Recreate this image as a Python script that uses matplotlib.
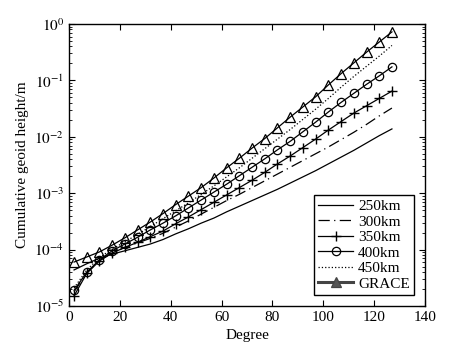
import numpy as np
import matplotlib
matplotlib.use("Agg")
import matplotlib.pyplot as plt
from matplotlib.ticker import FixedLocator, FuncFormatter, LogLocator, NullFormatter

plt.rcParams['font.family'] = ['Liberation Serif', 'DejaVu Serif']
plt.rcParams['mathtext.fontset'] = 'stix'
plt.rcParams['font.size'] = 11

# degree of the plotted points
degree = [2, 7, 12, 17, 22, 27, 32, 37, 42, 47, 52, 57, 62, 67, 72, 77, 82, 87,
          92, 97, 102, 107, 112, 117, 122, 127]

# log10 of cumulative geoid height (m)
log_250 = [-4.36, -4.25, -4.15, -4.08, -4.02, -3.96, -3.90, -3.82, -3.72, -3.63,
           -3.53, -3.44, -3.33, -3.23, -3.13, -3.03, -2.93, -2.82, -2.71, -2.60,
           -2.48, -2.36, -2.24, -2.11, -1.98, -1.86]
log_300 = [-4.75, -4.41, -4.19, -4.06, -3.96, -3.88, -3.80, -3.71, -3.60, -3.49,
           -3.37, -3.25, -3.13, -3.02, -2.90, -2.78, -2.66, -2.54, -2.42, -2.30,
           -2.18, -2.05, -1.92, -1.78, -1.63, -1.49]
log_350 = [-4.82, -4.42, -4.20, -4.06, -3.96, -3.87, -3.77, -3.67, -3.54, -3.42,
           -3.29, -3.16, -3.03, -2.90, -2.77, -2.63, -2.48, -2.34, -2.19, -2.04,
           -1.88, -1.73, -1.58, -1.45, -1.32, -1.19]
log_400 = [-4.72, -4.40, -4.18, -4.02, -3.90, -3.78, -3.65, -3.53, -3.40, -3.26,
           -3.12, -2.98, -2.84, -2.69, -2.54, -2.39, -2.23, -2.08, -1.91, -1.74,
           -1.56, -1.39, -1.23, -1.07, -0.92, -0.76]
log_450 = [-4.68, -4.36, -4.14, -3.99, -3.86, -3.73, -3.59, -3.45, -3.31, -3.17,
           -3.02, -2.87, -2.71, -2.55, -2.38, -2.21, -2.04, -1.87, -1.69, -1.51,
           -1.32, -1.12, -0.93, -0.75, -0.57, -0.38]
log_grace = [-4.22, -4.13, -4.04, -3.92, -3.79, -3.65, -3.51, -3.36, -3.20, -3.05,
             -2.90, -2.73, -2.55, -2.38, -2.20, -2.03, -1.84, -1.65, -1.47, -1.29,
             -1.08, -0.88, -0.69, -0.50, -0.32, -0.14]

labels = ['250km', '300km', '350km', '400km', '450km', 'GRACE']
x_ticks = [0, 20, 40, 60, 80, 100, 120, 140]

x = np.array(degree)
fig = plt.figure(figsize=(4.66, 3.53), dpi=100)
ax = fig.add_axes([0.148, 0.133, 0.764, 0.799])

k = dict(color='k', linewidth=0.9)
ax.semilogy(x, 10.0 ** np.array(log_250), '-', label=labels[0], **k)
ax.semilogy(x, 10.0 ** np.array(log_300), label=labels[1], dashes=(9, 3.5, 1, 3.5), **k)
ax.semilogy(x, 10.0 ** np.array(log_350), '-', marker='+', markersize=7,
            markeredgewidth=1, label=labels[2], **k)
ax.semilogy(x, 10.0 ** np.array(log_400), '-', marker='o', markersize=6,
            markerfacecolor='none', markeredgewidth=0.9, label=labels[3], **k)
ax.semilogy(x, 10.0 ** np.array(log_450), ':', label=labels[4], **k)
ax.semilogy(x, 10.0 ** np.array(log_grace), '-', marker='^', markersize=6.5,
            markerfacecolor='none', markeredgewidth=0.9, label=labels[5], **k)

ax.set_xlim(0, 140)
ax.set_ylim(1e-5, 1)
ax.xaxis.set_major_locator(FixedLocator(x_ticks))
ax.yaxis.set_major_locator(LogLocator(base=10, numticks=10))
ax.yaxis.set_minor_locator(LogLocator(base=10, subs=np.arange(2, 10), numticks=10))
ax.yaxis.set_minor_formatter(NullFormatter())
ax.yaxis.set_major_formatter(FuncFormatter(lambda v, p: r'$10^{%d}$' % round(np.log10(v))))
ax.tick_params(which='both', direction='in', top=True, right=True)
ax.tick_params(which='major', length=4, labelsize=11)
ax.tick_params(which='minor', length=2)
for s in ax.spines.values():
    s.set_linewidth(1.0)

ax.set_xlabel('Degree', fontsize=11)
ax.set_ylabel('Cumulative geoid height/m', fontsize=11)

leg = ax.legend(loc='lower right', fancybox=False, edgecolor='k', framealpha=1,
                fontsize=11, handlelength=2.3, labelspacing=0.12,
                borderpad=0.3, handletextpad=0.3, borderaxespad=0.7)
leg.get_frame().set_linewidth(1.0)
gl = leg.get_lines()[5]
gl.set_linewidth(2.2)
gl.set_color('#444444')
gl.set_markerfacecolor('#555555')

fig.savefig('out.png', dpi=100)
